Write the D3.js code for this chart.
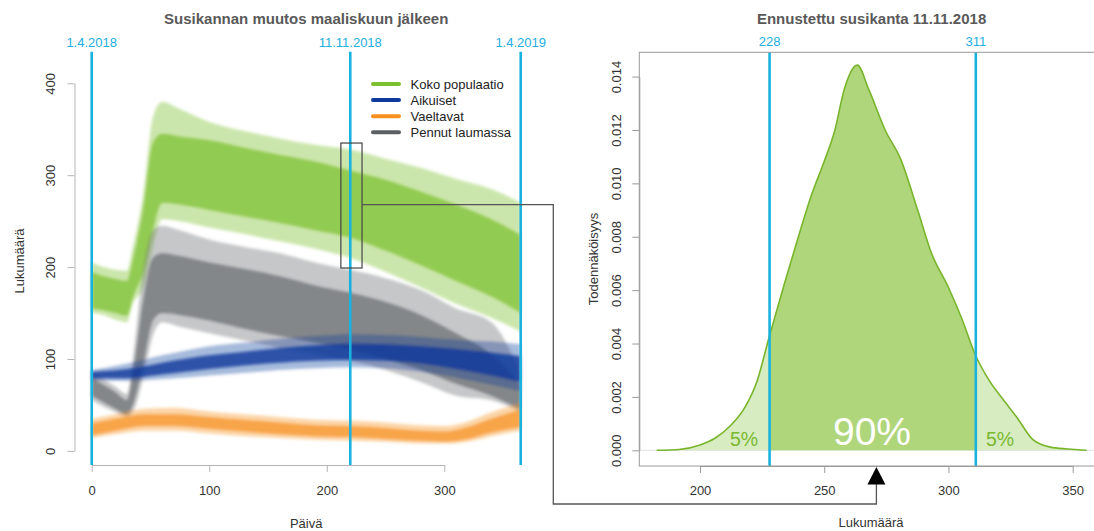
<!DOCTYPE html>
<html><head><meta charset="utf-8">
<script src="https://cdn.jsdelivr.net/npm/d3@7"></script>
<style>
body{margin:0;background:#fff}
text{font-family:"Liberation Sans",Arial,sans-serif}
</style>
</head><body>
<svg id="c" width="1094" height="531"></svg>
<script>
// ---------- Data: left panel (simulated trajectories summarised as envelopes) ----------
const legendNames = ["Koko populaatio","Aikuiset","Vaeltavat","Pennut laumassa"];
const legendColors = ["#7cc02e","#0d3a9c","#f7901e","#5b5f62"];

const popDays = [0,10,20,30,35,44,52,60,75,100,130,160,190,220,250,280,310,340,365];
const popLo = [150,148,143,140,160,178,222,252,250,243,236,228,220,210,195,178,160,145,130];
const popQ1 = [155,153,150,147,167,195,240,270,268,262,255,248,240,232,218,202,185,168,150];
const popQ3 = [195,190,187,185,208,265,335,345,342,338,330,322,315,305,295,282,268,252,235];
const popHi = [205,200,197,196,222,281,363,380,372,358,348,340,333,328,318,308,296,285,270];

const pupDays = [0,10,20,30,35,44,52,60,75,100,130,160,190,220,250,280,310,340,365];
const pupLo = [55,48,42,37,42,80,125,140,135,128,120,112,105,98,88,75,60,55,42];
const pupQ1 = [60,53,46,40,50,95,142,150,148,142,133,125,118,110,100,88,73,60,45];
const pupQ3 = [80,72,64,55,85,165,210,215,212,205,198,190,180,172,162,148,128,105,72];
const pupHi = [85,78,70,62,100,200,240,245,240,230,222,215,205,197,188,175,155,140,85];

const adultDays = [0,30,60,100,130,160,190,220,250,280,310,340,365];
const adultLo = [77,76,78,82,85,88,90,91,90,86,80,72,65];
const adultQ1 = [79,79,83,89,93,96,98,99,98,95,89,82,75];
const adultQ3 = [86,89,96,104,108,112,115,117,116,114,111,107,103];
const adultHi = [88,95,104,114,118,122,125,127,126,124,121,119,116];

const roamDays = [0,20,45,70,100,130,160,190,220,250,280,300,320,340,365];
const roamLo = [14,18,22,22,19,16,14,12,11,10,8,8,10,16,22];
const roamQ1 = [17,22,27,27,24,21,18,16,15,13,11,10,13,20,26];
const roamQ3 = [30,35,40,40,37,34,31,28,27,25,22,21,26,35,45];
const roamHi = [35,40,46,47,43,40,37,34,33,31,28,27,32,42,52];

const xTicksLeft = [0,100,200,300];
const yTicksLeft = [0,100,200,300,400];
const dateMarks = [0,220,365];
const dateLabels = ["1.4.2018","11.11.2018","1.4.2019"];
const boxDays = [212,230];
const boxValues = [199,335];
const connectorValue = 268;

// ---------- Data: right panel (density) ----------
const densX = [182.6,191.5,200,206,212,218,223,227.7,234,239.6,245,249.9,254.3,258,263.3,268,274.5,280.8,287.6,293.1,300,305.5,310.7,316.5,322,327.5,334,341,348,355.6];
const densY = [0,0.00003,0.0002,0.00045,0.0009,0.0016,0.0026,0.0042,0.00625,0.008,0.0096,0.0108,0.012,0.0135,0.01443,0.0135,0.012,0.0109,0.009,0.0074,0.0061,0.0049,0.0036,0.0026,0.0019,0.00124,0.0004,0.00012,0.00005,0];
const quantiles = [228,311];
const quantileLabels = ["228","311"];
const xTicksRight = [200,250,300,350];
const yTicksRight = [0,0.002,0.004,0.006,0.008,0.010,0.012,0.014];
const arrowValue = 271;

const svg = d3.select("#c");
const AX = "#b5b5b5", TXT = "#333", BLUE = "#19b2df";
const defs = svg.append("defs");
defs.append("filter").attr("id","soft").attr("x","-5%").attr("y","-5%").attr("width","110%").attr("height","110%")
  .append("feGaussianBlur").attr("stdDeviation",1.6);

// ================= LEFT PANEL =================
const xL = d3.scaleLinear().domain([0,300]).range([91.7,444.3]);
const yL = d3.scaleLinear().domain([0,400]).range([450.9,83.3]);
const gL = svg.append("g");
const gBands = gL.append("g").attr("filter","url(#soft)");

const series = [
  {days:popDays, lo:popLo, q1:popQ1, q3:popQ3, hi:popHi, color:legendColors[0], o1:0.4, o2:0.72},
  {days:pupDays, lo:pupLo, q1:pupQ1, q3:pupQ3, hi:pupHi, color:legendColors[3], o1:0.35, o2:0.62},
  {days:adultDays, lo:adultLo, q1:adultQ1, q3:adultQ3, hi:adultHi, color:legendColors[1], o1:0.35, o2:0.8},
  {days:roamDays, lo:roamLo, q1:roamQ1, q3:roamQ3, hi:roamHi, color:legendColors[2], o1:0.38, o2:0.7}
];
series.forEach(s=>{
  const pts = s.days.map((d,i)=>({d, lo:s.lo[i], q1:s.q1[i], q3:s.q3[i], hi:s.hi[i]}));
  const outer = d3.area().x(p=>xL(p.d)).y0(p=>yL(p.lo)).y1(p=>yL(p.hi)).curve(d3.curveMonotoneX);
  const inner = d3.area().x(p=>xL(p.d)).y0(p=>yL(p.q1)).y1(p=>yL(p.q3)).curve(d3.curveMonotoneX);
  gBands.append("path").attr("d",outer(pts)).attr("fill",s.color).attr("fill-opacity",s.o1);
  gBands.append("path").attr("d",inner(pts)).attr("fill",s.color).attr("fill-opacity",s.o2);
});

// axes
const yAxL = gL.append("g").attr("transform","translate(74.5,0)")
  .call(d3.axisLeft(yL).tickValues(yTicksLeft).tickSize(7).tickSizeOuter(0));
yAxL.select(".domain").attr("stroke",AX);
yAxL.selectAll(".tick line").attr("stroke",AX);
yAxL.selectAll(".tick text").attr("x",null).attr("dy",null)
  .attr("transform","translate(-19.5,0) rotate(-90)").attr("text-anchor","middle")
  .attr("font-size",13).attr("fill",TXT).attr("font-family","Liberation Sans, Arial, sans-serif");

const xAxL = gL.append("g").attr("transform","translate(0,465)")
  .call(d3.axisBottom(xL).tickValues(xTicksLeft).tickSize(7).tickSizeOuter(0));
xAxL.select(".domain").attr("stroke",AX);
xAxL.selectAll(".tick line").attr("stroke",AX);
xAxL.selectAll(".tick text").attr("y",21).attr("font-size",13).attr("fill",TXT)
  .attr("font-family","Liberation Sans, Arial, sans-serif");

// date lines
dateMarks.forEach((d,i)=>{
  gL.append("line").attr("x1",xL(d)).attr("x2",xL(d)).attr("y1",51.7).attr("y2",465)
    .attr("stroke",BLUE).attr("stroke-width",2.6);
  gL.append("text").attr("x",xL(d)).attr("y",47).attr("text-anchor","middle")
    .attr("font-size",13).attr("fill","#22aee0").text(dateLabels[i]);
});

// legend
legendNames.forEach((n,i)=>{
  const y = 84 + i*16.1;
  gL.append("line").attr("x1",373).attr("x2",399).attr("y1",y).attr("y2",y)
    .attr("stroke",legendColors[i]).attr("stroke-width",4).attr("stroke-linecap","round");
  gL.append("text").attr("x",410.5).attr("y",y+4.6).attr("font-size",13).attr("fill","#222").text(n);
});

// titles
svg.append("text").attr("x",306.2).attr("y",24).attr("text-anchor","middle")
  .attr("font-size",15).attr("font-weight","bold").attr("fill","#595959")
  .text("Susikannan muutos maaliskuun jälkeen");
svg.append("text").attr("x",306.2).attr("y",527.5).attr("text-anchor","middle")
  .attr("font-size",13).attr("fill",TXT).text("Päivä");
svg.append("text").attr("transform","translate(24,261) rotate(-90)").attr("text-anchor","middle")
  .attr("font-size",13).attr("fill",TXT).text("Lukumäärä");

// ================= RIGHT PANEL =================
const xR = d3.scaleLinear().domain([200,350]).range([700,1072.7]);
const yR = d3.scaleLinear().domain([0,0.014]).range([450.3,76.6]);
const gR = svg.append("g");
const box = {x0:639.3, x1:1104, y0:52.3, y1:466};

const dens = densX.map((v,i)=>({v, d:densY[i]}));
const area = d3.area().x(p=>xR(p.v)).y0(yR(0)).y1(p=>yR(p.d)).curve(d3.curveMonotoneX);
const line = d3.line().x(p=>xR(p.v)).y(p=>yR(p.d)).curve(d3.curveMonotoneX);

defs.append("clipPath").attr("id","mid").append("rect")
  .attr("x",xR(quantiles[0])).attr("width",xR(quantiles[1])-xR(quantiles[0]))
  .attr("y",0).attr("height",531);

gR.append("line").attr("x1",box.x0).attr("x2",box.x1).attr("y1",yR(0)).attr("y2",yR(0))
  .attr("stroke","#e2e2e2");
gR.append("path").attr("d",area(dens)).attr("fill","#d7ecc0");
gR.append("path").attr("d",area(dens)).attr("fill","#b0d67b").attr("clip-path","url(#mid)");
gR.append("path").attr("d",line(dens)).attr("fill","none").attr("stroke","#79b52c").attr("stroke-width",1.6);

quantiles.forEach((q,i)=>{
  gR.append("line").attr("x1",xR(q)).attr("x2",xR(q)).attr("y1",box.y0).attr("y2",box.y1)
    .attr("stroke",BLUE).attr("stroke-width",2.6);
  gR.append("text").attr("x",xR(q)).attr("y",46).attr("text-anchor","middle")
    .attr("font-size",13).attr("fill","#22aee0").text(quantileLabels[i]);
});

gR.append("text").attr("x",744).attr("y",446).attr("text-anchor","middle")
  .attr("font-size",19.5).attr("fill","#7ab830").text("5%");
gR.append("text").attr("x",1000).attr("y",446).attr("text-anchor","middle")
  .attr("font-size",19.5).attr("fill","#7ab830").text("5%");
gR.append("text").attr("x",872).attr("y",445).attr("text-anchor","middle")
  .attr("font-size",39).attr("fill","#ffffff").text("90%");

// box
gR.append("rect").attr("x",box.x0).attr("y",box.y0).attr("width",box.x1-box.x0).attr("height",box.y1-box.y0)
  .attr("fill","none").attr("stroke","#9a9a9a");

const yAxR = gR.append("g").attr("transform",`translate(${box.x0},0)`)
  .call(d3.axisLeft(yR).tickValues(yTicksRight).tickFormat(d3.format(".3f")).tickSize(7).tickSizeOuter(0));
yAxR.select(".domain").attr("stroke","#9a9a9a");
yAxR.selectAll(".tick line").attr("stroke","#9a9a9a");
yAxR.selectAll(".tick text").attr("x",null).attr("dy",null)
  .attr("transform","translate(-18.5,0) rotate(-90)").attr("text-anchor","middle")
  .attr("font-size",13).attr("fill",TXT).attr("font-family","Liberation Sans, Arial, sans-serif");

const xAxR = gR.append("g").attr("transform",`translate(0,${box.y1})`)
  .call(d3.axisBottom(xR).tickValues(xTicksRight).tickSize(7).tickSizeOuter(0));
xAxR.select(".domain").attr("stroke","#9a9a9a");
xAxR.selectAll(".tick line").attr("stroke","#9a9a9a");
xAxR.selectAll(".tick text").attr("y",20).attr("font-size",13).attr("fill",TXT)
  .attr("font-family","Liberation Sans, Arial, sans-serif");

svg.append("text").attr("x",871.6).attr("y",24.3).attr("text-anchor","middle")
  .attr("font-size",15).attr("font-weight","bold").attr("fill","#595959")
  .text("Ennustettu susikanta 11.11.2018");
svg.append("text").attr("x",871).attr("y",527.3).attr("text-anchor","middle")
  .attr("font-size",13).attr("fill",TXT).text("Lukumäärä");
svg.append("text").attr("transform","translate(598,259) rotate(-90)").attr("text-anchor","middle")
  .attr("font-size",13).attr("fill",TXT).text("Todennäköisyys");

// ================= CONNECTOR =================
svg.append("rect").attr("x",xL(boxDays[0])).attr("y",yL(boxValues[1]))
  .attr("width",xL(boxDays[1])-xL(boxDays[0])).attr("height",yL(boxValues[0])-yL(boxValues[1]))
  .attr("fill","none").attr("stroke","#444").attr("stroke-width",1.2);
const cy = yL(connectorValue), ax = xR(arrowValue);
svg.append("path").attr("d",d3.line()([[xL(boxDays[1]),cy],[553.3,cy],[553.3,504],[ax,504],[ax,484]]))
  .attr("fill","none").attr("stroke","#555").attr("stroke-width",1.3);
svg.append("path").attr("d",d3.line()([[ax,467],[ax-9,484.5],[ax+9,484.5]])+"Z").attr("fill","#000");
</script>
</body></html>
